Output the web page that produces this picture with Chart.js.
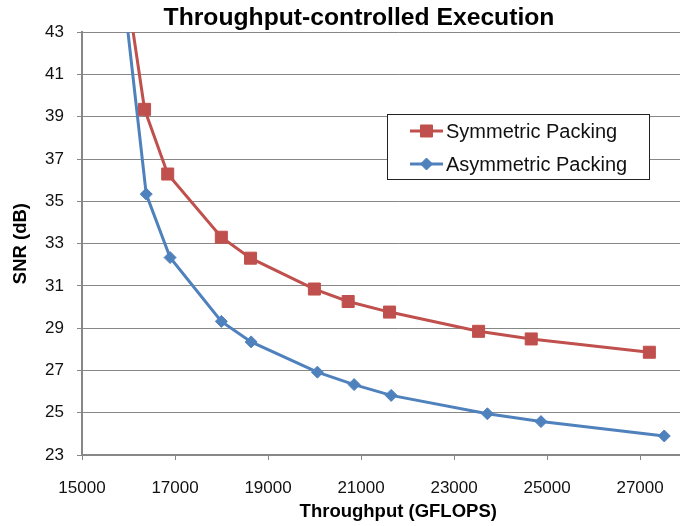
<!DOCTYPE html>
<html>
<head>
<meta charset="utf-8">
<script src="https://cdn.jsdelivr.net/npm/chart.js@4.4.1/dist/chart.umd.min.js"></script>
<style>
  html, body { margin: 0; padding: 0; background: #fff; }
  #wrap { width: 680px; height: 526px; overflow: hidden; position: relative; }
  canvas { display: block; }
</style>
</head>
<body>
<div id="wrap">
  <canvas id="snrGraph" width="724" height="526"></canvas>
</div>
<script>
let symThroughput = [15630, 16345, 16843, 17996, 18624, 19997, 20723, 21613, 23527, 24659, 27199];
let symSnr = [50, 39.35, 36.29, 33.30, 32.31, 30.85, 30.26, 29.76, 28.85, 28.49, 27.86];
let asymThroughput = [15630, 16381, 16894, 17996, 18637, 20061, 20851, 21648, 23717, 24869, 27519];
let asymSnr = [50, 35.34, 32.34, 29.32, 28.35, 26.92, 26.33, 25.82, 24.95, 24.58, 23.90];
let seriesNames = ['Symmetric Packing', 'Asymmetric Packing'];
let xTicks = [15000, 17000, 19000, 21000, 23000, 25000, 27000];
let yTicks = [23, 25, 27, 29, 31, 33, 35, 37, 39, 41, 43];

let red = '#C0504D';
let blue = '#4F81BD';
let gridGrey = '#878787';
let fontFamily = '"Liberation Sans", Arial, sans-serif';

function toPoints(xs, ys) {
  return xs.map((x, i) => ({x: x, y: ys[i]}));
}

// legend box sitting inside the plot, like the spreadsheet one
let boxLegend = {
  id: 'boxLegend',
  afterDraw(chart) {
    let c = chart.ctx;
    let left = 387.5, top = 114.5, w = 262, h = 65;
    c.save();
    c.fillStyle = '#fff';
    c.fillRect(left, top, w, h);
    c.strokeStyle = '#222';
    c.lineWidth = 1;
    c.strokeRect(left, top, w, h);
    chart.data.datasets.forEach((ds, i) => {
      let y = 131 + i * 33;
      c.strokeStyle = ds.borderColor;
      c.lineWidth = ds.borderWidth;
      c.beginPath();
      c.moveTo(410, y);
      c.lineTo(443, y);
      c.stroke();
      c.fillStyle = ds.pointBackgroundColor;
      c.strokeStyle = ds.pointBorderColor;
      c.lineWidth = 1;
      Chart.helpers.drawPoint(c, {
        pointStyle: ds.pointStyle,
        radius: ds.pointRadius,
        rotation: 0,
        borderWidth: 1
      }, 426.5, y);
      c.fillStyle = '#111';
      c.font = '20px ' + fontFamily;
      c.textBaseline = 'middle';
      c.textAlign = 'left';
      c.fillText(ds.label, 446, y + 1);
    });
    c.restore();
  }
};

let ctx = document.getElementById('snrGraph').getContext('2d');
let chartObject = {
  type: 'scatter',
  data: {
    datasets: [{
      label: seriesNames[0],
      data: toPoints(symThroughput, symSnr),
      showLine: true,
      borderColor: red,
      backgroundColor: red,
      borderWidth: 3,
      pointStyle: 'rect',
      pointRadius: 8.5,
      pointBackgroundColor: red,
      pointBorderColor: red,
      pointBorderWidth: 1,
      tension: 0
    }, {
      label: seriesNames[1],
      data: toPoints(asymThroughput, asymSnr),
      showLine: true,
      borderColor: blue,
      backgroundColor: blue,
      borderWidth: 3,
      pointStyle: 'rectRot',
      pointRadius: 6,
      pointBackgroundColor: blue,
      pointBorderColor: blue,
      pointBorderWidth: 1,
      tension: 0
    }]
  },
  options: {
    responsive: false,
    animation: false,
    devicePixelRatio: 1,
    layout: { padding: { left: 0, right: 6, top: 0, bottom: 0 } },
    plugins: {
      legend: { display: false },
      tooltip: { enabled: false },
      title: {
        display: true,
        text: 'Throughput-controlled Execution',
        color: '#000',
        font: { family: fontFamily, size: 24.7, weight: 'bold', lineHeight: 1.1 },
        padding: { top: 5, bottom: 0 }
      }
    },
    scales: {
      x: {
        type: 'linear',
        min: 15000,
        max: 28600,
        afterBuildTicks: scale => { scale.ticks = xTicks.map(v => ({value: v})); },
        afterFit: scale => { scale.height = 71; },
        ticks: {
          color: '#111',
          padding: 18,
          font: { family: fontFamily, size: 17 },
          callback: v => String(v)
        },
        grid: { drawOnChartArea: false, drawTicks: true, tickLength: 5, tickColor: gridGrey, tickWidth: 1 },
        border: { color: gridGrey, width: 2 },
        title: {
          display: true,
          text: 'Throughput (GFLOPS)',
          color: '#000',
          font: { family: fontFamily, size: 18.5, weight: 'bold' },
          padding: { top: 0, bottom: 3 }
        }
      },
      y: {
        min: 23,
        max: 43,
        afterBuildTicks: scale => { scale.ticks = yTicks.map(v => ({value: v})); },
        afterFit: scale => { scale.width = 82; },
        ticks: {
          color: '#111',
          padding: 13,
          font: { family: fontFamily, size: 17 }
        },
        grid: { color: gridGrey, lineWidth: 1, drawTicks: true, tickLength: 5, tickColor: gridGrey },
        border: { color: gridGrey, width: 2 },
        title: {
          display: true,
          text: 'SNR (dB)',
          color: '#000',
          font: { family: fontFamily, size: 18.5, weight: 'bold' },
          padding: { top: 10, bottom: 0 }
        }
      }
    }
  },
  plugins: [boxLegend]
};

let chart = new Chart(ctx, chartObject);
</script>
</body>
</html>
